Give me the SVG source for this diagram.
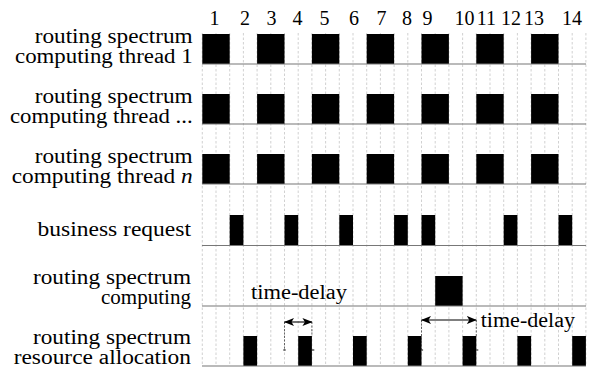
<svg xmlns="http://www.w3.org/2000/svg" width="597" height="371" viewBox="0 0 597 371" font-family="'Liberation Serif','Times New Roman',serif">
<style>
.lbl{font-size:20px;text-anchor:end}
.num{font-size:20px;text-anchor:middle}
.td{font-size:20px}
.grid{stroke:#bdbdbd;stroke-width:0.7;stroke-dasharray:2.5,2}
.axis{stroke:#777;stroke-width:1.2}
.blk{fill:#000}
.arr{stroke:#000;stroke-width:1.1;fill:none}
.dash{stroke:#444;stroke-width:0.8;stroke-dasharray:2,1.5;fill:none}
</style>
<defs>
<marker id="ah" viewBox="0 0 10 8" refX="9.5" refY="4" markerWidth="10" markerHeight="8" markerUnits="userSpaceOnUse" orient="auto-start-reverse">
<path d="M0,0 L10,4 L0,8 L2.5,4 Z" fill="#000"/>
</marker>
</defs>
<rect width="597" height="371" fill="#fff"/>
<g id="grid">
<path class="grid" d="M202.3,33V366M216,33V366M229.7,33V366M243.4,33V366M257.1,33V366M270.8,33V366M284.5,33V366M298.2,33V366M311.9,33V366M325.6,33V366M339.3,33V366M353,33V366M366.7,33V366M380.4,33V366M394.1,33V366M407.8,33V366M421.5,33V366M435.2,33V366M448.9,33V366M462.6,33V366M476.3,33V366M490,33V366M503.7,33V366M517.4,33V366M531.1,33V366M544.8,33V366M558.5,33V366M572.2,33V366M585.9,33V366"/>
</g>
<g id="slot-numbers">
<text class="num" x="214.5" y="25">1</text>
<text class="num" x="245" y="25">2</text>
<text class="num" x="271.5" y="25">3</text>
<text class="num" x="297.5" y="25">4</text>
<text class="num" x="324.5" y="25">5</text>
<text class="num" x="354" y="25">6</text>
<text class="num" x="381.5" y="25">7</text>
<text class="num" x="407" y="25">8</text>
<text class="num" x="427.5" y="25">9</text>
<text class="num" x="464.5" y="25">10</text>
<text class="num" x="486.5" y="25">11</text>
<text class="num" x="511" y="25">12</text>
<text class="num" x="534" y="25">13</text>
<text class="num" x="572" y="25">14</text>
</g>
<g id="thread1">
<text class="lbl" x="192.7" y="43" textLength="158" lengthAdjust="spacingAndGlyphs">routing spectrum</text>
<text class="lbl" x="192.7" y="63" textLength="177.7" lengthAdjust="spacingAndGlyphs">computing thread 1</text>
<path class="blk" d="M202.3,34h27.4v30h-27.4zM257.1,34h27.4v30h-27.4zM311.9,34h27.4v30h-27.4zM366.7,34h27.4v30h-27.4zM421.5,34h27.4v30h-27.4zM476.3,34h27.4v30h-27.4zM531.1,34h27.4v30h-27.4z"/>
<line class="axis" x1="202" y1="64" x2="586" y2="64"/>
</g>
<g id="thread-dots">
<text class="lbl" x="192.7" y="103" textLength="158" lengthAdjust="spacingAndGlyphs">routing spectrum</text>
<text class="lbl" x="192.7" y="123" textLength="182.7" lengthAdjust="spacingAndGlyphs">computing thread ...</text>
<path class="blk" d="M202.3,94h27.4v30h-27.4zM257.1,94h27.4v30h-27.4zM311.9,94h27.4v30h-27.4zM366.7,94h27.4v30h-27.4zM421.5,94h27.4v30h-27.4zM476.3,94h27.4v30h-27.4zM531.1,94h27.4v30h-27.4z"/>
<line class="axis" x1="202" y1="124" x2="586" y2="124"/>
</g>
<g id="thread-n">
<text class="lbl" x="192.7" y="163" textLength="158" lengthAdjust="spacingAndGlyphs">routing spectrum</text>
<text class="lbl" x="192.7" y="183" textLength="181" lengthAdjust="spacingAndGlyphs">computing thread <tspan font-style="italic">n</tspan></text>
<path class="blk" d="M202.3,154h27.4v30h-27.4zM257.1,154h27.4v30h-27.4zM311.9,154h27.4v30h-27.4zM366.7,154h27.4v30h-27.4zM421.5,154h27.4v30h-27.4zM476.3,154h27.4v30h-27.4zM531.1,154h27.4v30h-27.4z"/>
<line class="axis" x1="202" y1="184" x2="586" y2="184"/>
</g>
<g id="business-request">
<text class="lbl" x="191" y="236" textLength="153.5" lengthAdjust="spacingAndGlyphs">business request</text>
<path class="blk" d="M229.7,215h13.7v30.5h-13.7zM284.5,215h13.7v30.5h-13.7zM339.3,215h13.7v30.5h-13.7zM394.1,215h13.7v30.5h-13.7zM421.5,215h13.7v30.5h-13.7zM503.7,215h13.7v30.5h-13.7zM558.5,215h13.7v30.5h-13.7z"/>
<line class="axis" x1="202" y1="245.5" x2="586" y2="245.5"/>
</g>
<g id="spectrum-computing">
<text class="lbl" x="191" y="284" textLength="158" lengthAdjust="spacingAndGlyphs">routing spectrum</text>
<text class="lbl" x="191" y="304" textLength="90" lengthAdjust="spacingAndGlyphs">computing</text>
<rect class="blk" x="435.2" y="276" width="27.4" height="30"/>
<line class="axis" x1="202" y1="306" x2="586" y2="306"/>
</g>
<g id="resource-allocation">
<text class="lbl" x="191" y="344" textLength="158" lengthAdjust="spacingAndGlyphs">routing spectrum</text>
<text class="lbl" x="191" y="364" textLength="177.3" lengthAdjust="spacingAndGlyphs">resource allocation</text>
<path class="blk" d="M243.4,336h13.7v30h-13.7zM298.2,336h13.7v30h-13.7zM353,336h13.7v30h-13.7zM407.8,336h13.7v30h-13.7zM462.6,336h13.7v30h-13.7zM517.4,336h13.7v30h-13.7zM572.2,336h13.7v30h-13.7z"/>
<line class="axis" x1="202" y1="366" x2="586" y2="366"/>
</g>
<g id="connectors">
<path class="dash" d="M284.5,322V350M311.9,322V336M421.5,320V350M476.3,320V336"/>
<path class="arr" d="M283.3,350h2.4M311.9,350h2.4M421.5,350h1.6M476.3,350h2"/>
<line class="arr" x1="284.5" y1="322" x2="311.9" y2="322" marker-start="url(#ah)" marker-end="url(#ah)"/>
<line class="arr" x1="421.5" y1="320" x2="476.3" y2="320" marker-start="url(#ah)" marker-end="url(#ah)"/>
<text class="td" x="251" y="299" textLength="96" lengthAdjust="spacingAndGlyphs">time-delay</text>
<text class="td" x="480.7" y="327" textLength="94.3" lengthAdjust="spacingAndGlyphs">time-delay</text>
</g>
</svg>
